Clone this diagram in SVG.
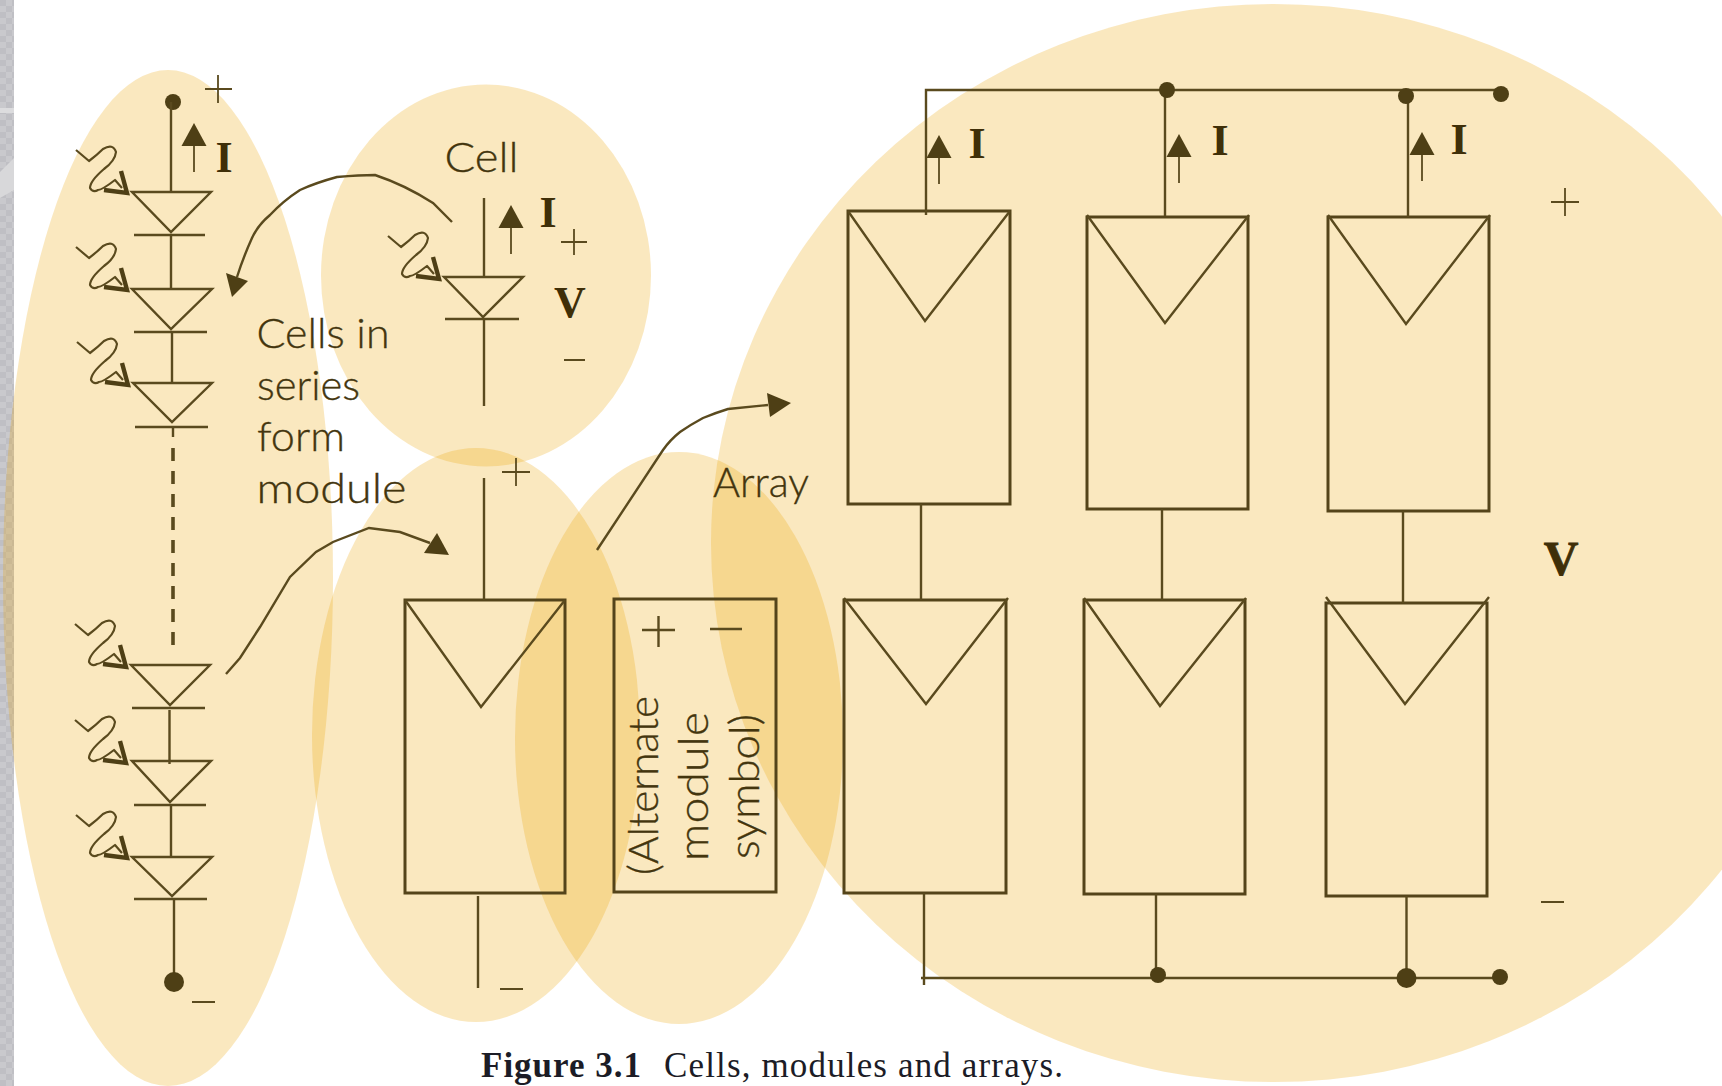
<svg xmlns="http://www.w3.org/2000/svg" width="1722" height="1086" viewBox="0 0 1722 1086">
<style>
.blob{fill:#eba500;fill-opacity:.25}
.ln{fill:none;stroke:#5a4a1e;stroke-width:2.4}
.thin{fill:none;stroke:#5a4a1e;stroke-width:1.8}
.wig{fill:none;stroke:#5a4a1e;stroke-width:2.2;stroke-linejoin:round}
.head{fill:none;stroke:#4e3f15;stroke-width:4.4}
.box{fill:none;stroke:#54441a;stroke-width:3}
.fill{fill:#4e3f15;stroke:none}
.lbl{font-family:"Lato","Liberation Sans",sans-serif;font-weight:300;font-size:42px;fill:#43350e;stroke:#43350e;stroke-width:.35}
.sym{font-family:"Liberation Serif",serif;font-weight:700;fill:#3f2f08}
.cap{font-family:"Liberation Serif",serif;font-size:35px;fill:#1c1c26}
</style>
<defs>
<pattern id="chk" width="12" height="12" patternUnits="userSpaceOnUse">
<rect width="12" height="12" fill="#c9c9cd"/><rect width="6" height="6" fill="#bfbfc4"/><rect x="6" y="6" width="6" height="6" fill="#bfbfc4"/>
</pattern>
<g id="photon">
<path class="wig" d="M-52,-43 L-39,-32 Q-31,-38 -25,-44 Q-15,-50 -12,-41 Q-13,-32 -24,-24 Q-38,-12 -38,-5 Q-35,0 -30,-3 Q-26,-3 -13,-13 L-6,-5"/>
<path class="head" d="M-24,-3 L-1,0 L-7,-22"/>
</g>
<g id="up"><path class="thin" d="M0,0 V-27"/><path class="fill" d="M0,-49 L-12.500,-26 H12.500 Z"/></g>
</defs>

<rect id="strip" x="0" y="0" width="14" height="1086" fill="url(#chk)"/>
<path d="M0,108 H14 V113 H0 Z" fill="#dcdcde"/>
<path d="M0,172 L14,158 V190 L0,198 Z" fill="#d8d8da"/>
<rect x="14" y="0" width="1708" height="1086" fill="#fff"/>

<g id="regions">
<ellipse class="blob" cx="168" cy="578" rx="165" ry="508"/>
<ellipse class="blob" cx="486" cy="275.500" rx="165" ry="191"/>
<ellipse class="blob" cx="476" cy="735" rx="164" ry="287"/>
<ellipse class="blob" cx="679" cy="738" rx="164" ry="286"/>
<ellipse class="blob" cx="1274" cy="543" rx="563" ry="539"/>
</g>

<g id="string-module">
<circle class="fill" cx="173" cy="102" r="8"/>
<path class="ln" d="M171,102 V193 M171,235 V290 M172,332 V384 M173,427 V437"/>
<path class="ln" stroke-dasharray="13 10" style="stroke-width:3.600" d="M173,448 V652"/>
<path class="ln" d="M169.500,710 V764 M171,805 V858 M174,899 V973"/>
<circle class="fill" cx="174" cy="982" r="10"/>
<g id="diode-1"><path class="ln" d="M132,192 H211 L171,232 Z M134,235 H205"/><use href="#photon" x="128" y="193"/></g>
<g id="diode-2"><path class="ln" d="M132,289 H212 L171,329 Z M134,332 H207"/><use href="#photon" x="128" y="290"/></g>
<g id="diode-3"><path class="ln" d="M133,383 H212 L172,422 Z M135,427 H208"/><use href="#photon" x="129" y="385"/></g>
<g id="diode-4"><path class="ln" d="M131,665 H210 L170,705 Z M132,708 H205"/><use href="#photon" x="127" y="667"/></g>
<g id="diode-5"><path class="ln" d="M132,761 H211 L170,802 Z M134,805 H206"/><use href="#photon" x="127" y="763"/></g>
<g id="diode-6"><path class="ln" d="M132,857 H212 L172,896 Z M134,899 H207"/><use href="#photon" x="128" y="858"/></g>
<use href="#up" x="194" y="172"/>
<text class="sym" x="224" y="172" font-size="44" text-anchor="middle">I</text>
<path class="thin" d="M205,89 H232 M218,75 V103 M192,1002 H215"/>
</g>

<g id="cell">
<text class="lbl" x="444.500" y="172" textLength="74" lengthAdjust="spacingAndGlyphs">Cell</text>
<path class="ln" d="M484,198 V278 M444,277 H523 L483,317 Z M445,319 H519 M484,319 V406"/>
<use href="#photon" x="440" y="279"/>
<use href="#up" x="511" y="254"/>
<text class="sym" x="548" y="227" font-size="44" text-anchor="middle">I</text>
<text class="sym" x="570" y="317" font-size="44" text-anchor="middle">V</text>
<path class="thin" d="M561,242 H587 M574,229 V255 M564,360 H585"/>
</g>

<g id="caption-series">
<text class="lbl" x="256.500" y="348" textLength="133" lengthAdjust="spacingAndGlyphs">Cells in</text>
<text class="lbl" x="257" y="400" textLength="103" lengthAdjust="spacingAndGlyphs">series</text>
<text class="lbl" x="257" y="451" textLength="88" lengthAdjust="spacingAndGlyphs">form</text>
<text class="lbl" x="256.500" y="503" textLength="150" lengthAdjust="spacingAndGlyphs">module</text>
</g>

<g id="module">
<rect class="box" x="405" y="600" width="160" height="293"/>
<path class="ln" d="M405,600 L481,707 L565,600 M484,478 V600 M478,896 V988"/>
<path class="thin" d="M502,472 H530 M516,458 V486 M500,989 H523"/>
</g>

<g id="alt-module">
<rect class="box" x="614" y="599" width="162" height="293"/>
<path class="ln" d="M642,630 H675 M658.500,616 V647 M710,629 H742"/>
<text class="lbl" transform="translate(658,875) rotate(-90)" textLength="179" lengthAdjust="spacingAndGlyphs">(Alternate</text>
<text class="lbl" transform="translate(708,861) rotate(-90)" textLength="149" lengthAdjust="spacingAndGlyphs">module</text>
<text class="lbl" transform="translate(759,859) rotate(-90)" textLength="145" lengthAdjust="spacingAndGlyphs">symbol)</text>
</g>

<g id="array-label"><text class="lbl" x="713" y="497" textLength="96" lengthAdjust="spacingAndGlyphs">Array</text></g>

<g id="array-col-1">
<rect class="box" x="848" y="211" width="162" height="293"/>
<path class="ln" d="M848,211 L925,321 L1010,211"/>
<rect class="box" x="844" y="600" width="162" height="293"/>
<path class="ln" d="M844,598 L926,704 L1008,598"/>
<use href="#up" x="939" y="184"/>
<text class="sym" x="977" y="158" font-size="44" text-anchor="middle">I</text>
</g>
<g id="array-col-2">
<rect class="box" x="1087" y="217" width="161" height="292"/>
<path class="ln" d="M1087,215 L1165,323 L1249,215"/>
<rect class="box" x="1084" y="600" width="161" height="294"/>
<path class="ln" d="M1084,598 L1160,706 L1246,598"/>
<use href="#up" x="1179" y="183"/>
<text class="sym" x="1220" y="155" font-size="44" text-anchor="middle">I</text>
</g>
<g id="array-col-3">
<rect class="box" x="1328" y="217" width="161" height="294"/>
<path class="ln" d="M1328,215 L1406,324 L1490,215"/>
<rect class="box" x="1326" y="603" width="161" height="293"/>
<path class="ln" d="M1326,597 L1405,704 L1489,597"/>
<use href="#up" x="1422" y="181"/>
<text class="sym" x="1459" y="154" font-size="44" text-anchor="middle">I</text>
</g>
<g id="array-terminals">
<text class="sym" x="1561" y="575" font-size="48" text-anchor="middle" stroke="#3f2f08" stroke-width=".8">V</text>
<path class="thin" d="M1551,202 H1579 M1565,188 V216 M1541,902 H1564"/>
</g>

<g id="connectors">
<path class="ln" d="M926,215 V90 H1501 M1165,90 V216 M1408,96 V217"/>
<path class="ln" d="M921,504 V600 M1162,509 V600 M1403,511 V603"/>
<path class="ln" d="M924,893 V985 M921,978 H1500 M1156,894 V975 M1406.500,896 V978"/>
<circle class="fill" cx="1167" cy="90" r="8"/>
<circle class="fill" cx="1406" cy="96" r="8"/>
<circle class="fill" cx="1501" cy="94" r="8"/>
<circle class="fill" cx="1158" cy="975" r="8"/>
<circle class="fill" cx="1406.500" cy="978" r="10"/>
<circle class="fill" cx="1500" cy="977" r="8"/>
<path class="ln" d="M452,222 L433,203 Q405,185 375,175 Q360,175 337,177 Q315,183 300,190 Q283,201 270,215 Q258,225 252,238 Q243,258 237,277"/>
<path class="fill" d="M232,297 L226,273 L248,281 Z"/>
<path class="ln" d="M226,674 L240,658 L260,627 L290,577 L316,552 L333,542 L369,528 L400,532 L430,543"/>
<path class="fill" d="M437,533 L449,555 L424,553 Z"/>
<path class="ln" d="M597,550 L663,450 Q670,440 680,432 Q690,425 703,418 Q715,413 728,409 L768,405"/>
<path class="fill" d="M767,393 L791,403 L770,417 Z"/>
</g>

<g id="figure-caption">
<text class="cap" x="481" y="1077" font-weight="700" textLength="160">Figure 3.1</text>
<text class="cap" x="664" y="1077" textLength="399">Cells, modules and arrays.</text>
</g>
</svg>
